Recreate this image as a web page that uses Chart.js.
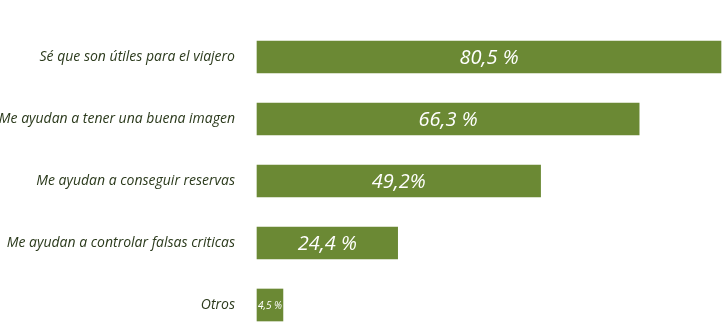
<!DOCTYPE html>
<html lang="es">
<head>
  <meta charset="UTF-8" />
  <title>Opiniones</title>
  <script src="https://cdn.jsdelivr.net/npm/chart.js"></script>
  <style>
    html, body {
      margin: 0;
      padding: 0;
      background: white;
    }
    #wrap {
      width: 723px;
      height: 331px;
    }
  </style>
</head>
<body>
  <div id="wrap">
    <canvas id="opinionChart"></canvas>
  </div>

  <script>
    const categories = [
      'Sé que son útiles para el viajero',
      'Me ayudan a tener una buena imagen',
      'Me ayudan a conseguir reservas',
      'Me ayudan a controlar falsas criticas',
      'Otros'
    ];
    const values = [80.5, 66.3, 49.2, 24.4, 4.5];
    const valueLabels = ['80,5 %', '66,3 %', '49,2%', '24,4 %', '4,5 %'];

    // writes each percentage centred inside its bar
    const barText = {
      id: 'barText',
      afterDatasetsDraw(chart) {
        const ctx = chart.ctx;
        const meta = chart.getDatasetMeta(0);
        ctx.save();
        ctx.fillStyle = '#ffffff';
        ctx.textAlign = 'center';
        ctx.textBaseline = 'middle';
        meta.data.forEach((bar, i) => {
          const size = values[i] < 10 ? 10 : 20;
          ctx.font = 'italic ' + size + 'px "Open Sans", sans-serif';
          const cx = (bar.base + bar.x) / 2;
          ctx.fillText(valueLabels[i], cx, bar.y + 1);
        });
        ctx.restore();
      }
    };

    const ctx = document.getElementById('opinionChart').getContext('2d');
    new Chart(ctx, {
      type: 'bar',
      data: {
        labels: categories,
        datasets: [{
          data: values,
          backgroundColor: '#6b8934',
          barThickness: 32,
          clip: false
        }]
      },
      options: {
        indexAxis: 'y',
        responsive: true,
        maintainAspectRatio: false,
        animation: false,
        layout: {
          padding: { top: 57, bottom: 26, right: 2, left: 0 }
        },
        plugins: {
          legend: { display: false },
          tooltip: { enabled: false }
        },
        scales: {
          x: {
            display: false,
            min: 0,
            max: 80.5
          },
          y: {
            offset: false,
            grid: { display: false, drawTicks: false },
            border: { display: false },
            afterFit(scale) {
              // fixed label column, no extra room for the end labels
              scale.width = 257;
              scale.paddingTop = 0;
              scale.paddingBottom = 0;
            },
            ticks: {
              padding: 22,
              color: '#2b3a1c',
              font: { family: '"Open Sans", sans-serif', style: 'italic', size: 14 }
            }
          }
        }
      },
      plugins: [barText]
    });
  </script>
</body>
</html>
